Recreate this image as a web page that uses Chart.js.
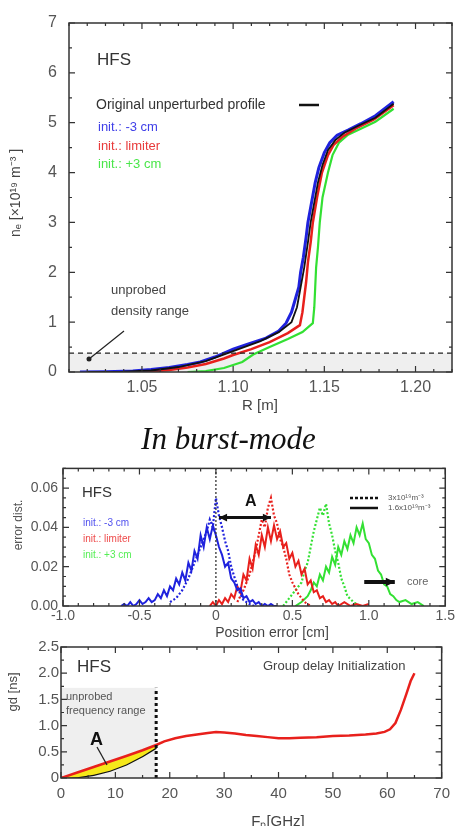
<!DOCTYPE html>
<html>
<head>
<meta charset="utf-8">
<script src="https://cdn.jsdelivr.net/npm/chart.js@4.4.1/dist/chart.umd.min.js"></script>
<style>
  html, body { margin: 0; padding: 0; background: #fff; }
  body { width: 457px; height: 826px; position: relative; overflow: hidden; }
  canvas { position: absolute; left: 0; }
  #burst {
    position: absolute; left: 0; top: 421px; width: 457px; text-align: center;
    font: italic 31px "Liberation Serif", "DejaVu Serif", serif; line-height: 36px; color: #111;
  }
</style>
</head>
<body>
<canvas id="profile" width="457" height="425" style="top:0px"></canvas>
<div id="burst">In burst-mode</div>
<canvas id="errdist" width="457" height="190" style="top:455px"></canvas>
<canvas id="gdinit" width="457" height="190" style="top:636px"></canvas>

<script>
// ---- panel 1: density profiles ----
const rTicks = [1.05, 1.10, 1.15, 1.20];
const rTickLabels = ['1.05', '1.10', '1.15', '1.20'];
const neTicks = [0, 1, 2, 3, 4, 5, 6, 7];
const neUnprobed = 0.38; // unprobed density level

const rOrig  = [1.02, 1.04, 1.055, 1.07, 1.085, 1.10, 1.115, 1.125, 1.132, 1.135, 1.137, 1.139, 1.141, 1.1425, 1.1445, 1.1465, 1.149, 1.152, 1.156, 1.161, 1.168, 1.178, 1.188];
const neOrig = [0, 0.005, 0.03, 0.10, 0.22, 0.42, 0.62, 0.80, 1.0, 1.3, 1.7, 2.1, 2.6, 3.0, 3.4, 3.8, 4.15, 4.45, 4.65, 4.8, 4.93, 5.1, 5.38];

const rBlue  = [1.016, 1.03, 1.045, 1.055, 1.065, 1.075, 1.082, 1.09, 1.10, 1.108, 1.118, 1.125, 1.129, 1.132, 1.134, 1.136, 1.137, 1.1385, 1.140, 1.141, 1.143, 1.145, 1.147, 1.150, 1.153, 1.157, 1.163, 1.170, 1.178, 1.188];
const neBlue = [0, 0.005, 0.02, 0.05, 0.09, 0.15, 0.20, 0.30, 0.46, 0.56, 0.68, 0.82, 0.98, 1.2, 1.45, 1.7, 2.0, 2.3, 2.7, 3.0, 3.4, 3.8, 4.1, 4.4, 4.6, 4.75, 4.85, 4.98, 5.14, 5.42];

const rRed  = [1.045, 1.055, 1.065, 1.075, 1.085, 1.095, 1.10, 1.11, 1.12, 1.13, 1.1366, 1.138, 1.139, 1.140, 1.141, 1.1425, 1.1437, 1.146, 1.1487, 1.152, 1.155, 1.160, 1.167, 1.177, 1.188];
const neRed = [0, 0.01, 0.04, 0.09, 0.16, 0.27, 0.34, 0.46, 0.60, 0.78, 0.94, 1.2, 1.5, 1.8, 2.2, 2.6, 3.0, 3.5, 4.0, 4.35, 4.55, 4.72, 4.88, 5.06, 5.35];

const rGreen  = [1.075, 1.085, 1.095, 1.105, 1.111, 1.12, 1.13, 1.138, 1.1437, 1.1445, 1.145, 1.1455, 1.1465, 1.1475, 1.149, 1.152, 1.1545, 1.158, 1.163, 1.170, 1.178, 1.188];
const neGreen = [0, 0.02, 0.08, 0.20, 0.35, 0.50, 0.66, 0.80, 0.98, 1.3, 1.7, 2.1, 2.5, 3.0, 3.5, 4.0, 4.35, 4.6, 4.76, 4.88, 5.02, 5.28];

// ---- panel 2: position error distributions ----
const errTicks = [-1.0, -0.5, 0, 0.5, 1.0, 1.5];
const errTickLabels = ['-1.0', '-0.5', '0', '0.5', '1.0', '1.5'];
const distTicks = [0, 0.02, 0.04, 0.06];
const distTickLabels = ['0.00', '0.02', '0.04', '0.06'];

const blueSolidX = [-0.62, -0.60, -0.58, -0.56, -0.54, -0.52, -0.50, -0.48, -0.46, -0.44, -0.42, -0.40, -0.38, -0.36, -0.34, -0.32, -0.30, -0.28, -0.26, -0.24, -0.22, -0.20, -0.18, -0.16, -0.14, -0.12, -0.10, -0.08, -0.06, -0.04, -0.02, 0.00, 0.02, 0.04, 0.06, 0.08, 0.10, 0.12, 0.14, 0.16, 0.18, 0.20, 0.22, 0.24, 0.26, 0.28, 0.30, 0.32, 0.34, 0.36, 0.38, 0.40];
const blueSolidY = [0.000, 0.001, 0.000, 0.002, 0.000, 0.001, 0.003, 0.001, 0.002, 0.004, 0.002, 0.003, 0.006, 0.004, 0.008, 0.005, 0.010, 0.008, 0.014, 0.011, 0.017, 0.013, 0.022, 0.018, 0.028, 0.024, 0.036, 0.030, 0.040, 0.034, 0.041, 0.036, 0.030, 0.026, 0.020, 0.022, 0.014, 0.012, 0.008, 0.009, 0.004, 0.005, 0.002, 0.003, 0.001, 0.002, 0.000, 0.001, 0.000, 0.001, 0.000, 0.000];
const blueDotX = [-0.30, -0.26, -0.22, -0.18, -0.14, -0.10, -0.06, -0.04, -0.02, 0.00, 0.02, 0.04, 0.06, 0.08, 0.10, 0.12, 0.14, 0.16, 0.18, 0.22, 0.25];
const blueDotY = [0.002, 0.004, 0.008, 0.014, 0.022, 0.030, 0.038, 0.044, 0.040, 0.055, 0.046, 0.040, 0.033, 0.028, 0.020, 0.015, 0.010, 0.006, 0.003, 0.001, 0.000];

const redSolidX = [-0.04, -0.02, 0.00, 0.02, 0.04, 0.06, 0.08, 0.10, 0.12, 0.14, 0.16, 0.18, 0.20, 0.22, 0.24, 0.26, 0.28, 0.30, 0.32, 0.34, 0.36, 0.38, 0.40, 0.42, 0.44, 0.46, 0.48, 0.50, 0.52, 0.54, 0.56, 0.58, 0.60, 0.62, 0.64, 0.66, 0.68, 0.70, 0.72, 0.74, 0.76, 0.78, 0.80, 0.84, 0.88, 0.92, 0.96, 1.00];
const redSolidY = [0.000, 0.002, 0.000, 0.003, 0.001, 0.004, 0.002, 0.006, 0.004, 0.010, 0.007, 0.016, 0.013, 0.024, 0.019, 0.031, 0.026, 0.036, 0.030, 0.040, 0.033, 0.041, 0.034, 0.038, 0.030, 0.032, 0.024, 0.027, 0.020, 0.023, 0.016, 0.019, 0.011, 0.013, 0.007, 0.008, 0.004, 0.005, 0.002, 0.003, 0.001, 0.002, 0.000, 0.002, 0.000, 0.001, 0.000, 0.001];
const redDotX = [0.14, 0.18, 0.22, 0.26, 0.28, 0.30, 0.32, 0.34, 0.36, 0.38, 0.40, 0.42, 0.44, 0.46, 0.48, 0.50, 0.54, 0.58, 0.62];
const redDotY = [0.002, 0.008, 0.016, 0.028, 0.036, 0.044, 0.040, 0.050, 0.055, 0.046, 0.042, 0.034, 0.030, 0.024, 0.016, 0.012, 0.006, 0.002, 0.000];

const greenDotX = [0.44, 0.48, 0.52, 0.56, 0.58, 0.60, 0.62, 0.64, 0.66, 0.68, 0.70, 0.72, 0.74, 0.76, 0.78, 0.80, 0.82, 0.84, 0.86, 0.90, 0.94];
const greenDotY = [0.000, 0.004, 0.008, 0.012, 0.018, 0.022, 0.030, 0.038, 0.044, 0.050, 0.046, 0.052, 0.042, 0.036, 0.028, 0.022, 0.014, 0.010, 0.005, 0.002, 0.000];
const greenSolidX = [0.52, 0.56, 0.60, 0.62, 0.64, 0.66, 0.68, 0.70, 0.72, 0.74, 0.76, 0.78, 0.80, 0.82, 0.84, 0.86, 0.88, 0.90, 0.92, 0.94, 0.96, 0.98, 1.00, 1.02, 1.04, 1.06, 1.08, 1.10, 1.12, 1.14, 1.16, 1.18, 1.20, 1.24, 1.28, 1.32, 1.36];
const greenSolidY = [0.000, 0.002, 0.005, 0.008, 0.012, 0.010, 0.016, 0.013, 0.020, 0.017, 0.025, 0.021, 0.030, 0.026, 0.033, 0.029, 0.036, 0.032, 0.040, 0.036, 0.042, 0.034, 0.032, 0.026, 0.024, 0.018, 0.016, 0.011, 0.010, 0.006, 0.005, 0.003, 0.002, 0.003, 0.001, 0.002, 0.000];

// ---- panel 3: group delay initialization ----
const fTicks = [0, 10, 20, 30, 40, 50, 60, 70];
const gdTicks = [0, 0.5, 1.0, 1.5, 2.0, 2.5];
const gdTickLabels = ['0', '0.5', '1.0', '1.5', '2.0', '2.5'];
const fUnprobed = 17.5;
const gdShadeTop = 1.72;

const fInit = [0, 3, 6, 9, 12, 15, 17.5];
const gdInitLinear = [0, 0.105, 0.21, 0.315, 0.42, 0.53, 0.63];
const gdInitTrue = [0, 0.015, 0.06, 0.14, 0.26, 0.42, 0.58];
const fGd = [17.5, 19, 21, 23, 25, 27, 28.5, 30, 32, 34, 36, 38, 40, 42, 44, 47, 50, 53, 56, 58, 59.5, 60.5, 61.5, 62.5, 63.5, 64.3, 65];
const gd = [0.63, 0.70, 0.76, 0.80, 0.83, 0.86, 0.88, 0.87, 0.85, 0.82, 0.80, 0.78, 0.76, 0.76, 0.77, 0.78, 0.80, 0.81, 0.83, 0.85, 0.88, 0.93, 1.05, 1.30, 1.60, 1.85, 2.00];

const FONT = '"Liberation Sans", Arial, sans-serif';
const BLUE = '#1f22dd', RED = '#e8201c', GREEN = '#33e033';

const pairs = (xs, ys) => xs.map((x, i) => ({ x, y: ys[i] }));

function steps(a, b, d) {
  const out = [];
  for (let v = a; v <= b + 1e-9; v += d) out.push(+v.toFixed(4));
  return out;
}

function txt(ctx, s, x, y, size, color, opts = {}) {
  ctx.save();
  ctx.font = (opts.bold ? 'bold ' : '') + size + 'px ' + FONT;
  ctx.fillStyle = color;
  ctx.textAlign = opts.align || 'left';
  ctx.textBaseline = 'middle';
  if (opts.rotate) {
    ctx.translate(x, y);
    ctx.rotate(-Math.PI / 2);
    ctx.textAlign = 'center';
    ctx.fillText(s, 0, 0);
  } else {
    ctx.fillText(s, x, y);
  }
  ctx.restore();
}

function arrow(ctx, x1, y1, x2, y2, width, head, both) {
  ctx.save();
  ctx.strokeStyle = '#111';
  ctx.fillStyle = '#111';
  ctx.lineWidth = width;
  ctx.beginPath();
  ctx.moveTo(x1, y1);
  ctx.lineTo(x2, y2);
  ctx.stroke();
  const tip = (xa, ya, xb, yb) => {
    const a = Math.atan2(yb - ya, xb - xa);
    ctx.beginPath();
    ctx.moveTo(xb, yb);
    ctx.lineTo(xb - head * Math.cos(a - 0.45), yb - head * Math.sin(a - 0.45));
    ctx.lineTo(xb - head * Math.cos(a + 0.45), yb - head * Math.sin(a + 0.45));
    ctx.closePath();
    ctx.fill();
  };
  tip(x1, y1, x2, y2);
  if (both) tip(x2, y2, x1, y1);
  ctx.restore();
}

// box around the plot with inward ticks on every side
function framePlugin(xMajor, xMinor, yMajor, yMinor) {
  return {
    id: 'frame',
    afterDatasetsDraw(chart) {
      const { ctx, chartArea: a, scales: { x, y } } = chart;
      ctx.save();
      ctx.strokeStyle = '#333';
      ctx.lineWidth = 1.5;
      ctx.strokeRect(a.left, a.top, a.right - a.left, a.bottom - a.top);
      ctx.lineWidth = 1.2;
      ctx.beginPath();
      const xt = (vals, len) => vals.forEach(v => {
        const p = x.getPixelForValue(v);
        ctx.moveTo(p, a.bottom); ctx.lineTo(p, a.bottom - len);
        ctx.moveTo(p, a.top); ctx.lineTo(p, a.top + len);
      });
      const yt = (vals, len) => vals.forEach(v => {
        const p = y.getPixelForValue(v);
        ctx.moveTo(a.left, p); ctx.lineTo(a.left + len, p);
        ctx.moveTo(a.right, p); ctx.lineTo(a.right - len, p);
      });
      xt(xMinor, 3); xt(xMajor, 6);
      yt(yMinor, 3); yt(yMajor, 6);
      ctx.stroke();
      ctx.restore();
    }
  };
}

function axes(xMin, xMax, xTickVals, xLabels, xPad, xFont, xH, yMin, yMax, yTickVals, yLabels, yPad, yFont, yW) {
  return {
    x: {
      type: 'linear', min: xMin, max: xMax,
      grid: { display: false, drawTicks: false }, border: { display: false },
      afterBuildTicks: s => { s.ticks = xTickVals.map(v => ({ value: v })); },
      afterFit: s => { s.height = xH; },
      ticks: { padding: xPad, color: '#555', font: { family: FONT, size: xFont }, maxRotation: 0,
               callback: (v, i) => xLabels[i] }
    },
    y: {
      type: 'linear', min: yMin, max: yMax,
      grid: { display: false, drawTicks: false }, border: { display: false },
      afterBuildTicks: s => { s.ticks = yTickVals.map(v => ({ value: v })); },
      afterFit: s => { s.width = yW; },
      ticks: { padding: yPad, color: '#555', font: { family: FONT, size: yFont },
               callback: (v, i) => yLabels[i] }
    }
  };
}

const baseOpts = {
  responsive: false,
  animation: false,
  devicePixelRatio: 1,
  plugins: { legend: { display: false }, tooltip: { enabled: false } },
  elements: { point: { radius: 0 }, line: { tension: 0 } }
};

function line(data, color, width, extra = {}) {
  return Object.assign({ data, borderColor: color, borderWidth: width, showLine: true, fill: false }, extra);
}

// ================= panel 1 =================
new Chart(document.getElementById('profile'), {
  type: 'scatter',
  data: {
    datasets: [
      line(pairs([1.01, 1.22], [neUnprobed, neUnprobed]), '#222', 1.3, { borderDash: [5, 4] }),
      line(pairs(rOrig, neOrig), '#111', 1.8),
      line(pairs(rBlue, neBlue), BLUE, 3),
      line(pairs(rRed, neRed), RED, 2.5),
      line(pairs(rGreen, neGreen), GREEN, 2.2)
    ]
  },
  options: Object.assign({}, baseOpts, {
    layout: { padding: { left: 0, top: 23, right: 5, bottom: 0 } },
    scales: axes(1.01, 1.22, rTicks, rTickLabels, 6, 16, 53,
                 0, 7, neTicks, neTicks.map(String), 12, 16, 69)
  }),
  plugins: [
    {
      id: 'shade1',
      beforeDatasetsDraw(chart) {
        const { ctx, chartArea: a, scales: { y } } = chart;
        const top = y.getPixelForValue(neUnprobed);
        ctx.save();
        ctx.fillStyle = '#efefef';
        ctx.fillRect(a.left, top, a.right - a.left, a.bottom - top);
        ctx.restore();
      }
    },
    framePlugin(rTicks, steps(1.01, 1.22, 0.01), neTicks, steps(0, 7, 0.5)),
    {
      id: 'decor1',
      afterDraw(chart) {
        const ctx = chart.ctx;
        txt(ctx, 'HFS', 97, 60, 17, '#333');
        txt(ctx, 'Original unperturbed profile', 96, 105, 14, '#333');
        ctx.save();
        ctx.strokeStyle = '#111'; ctx.lineWidth = 2.5;
        ctx.beginPath(); ctx.moveTo(299, 105); ctx.lineTo(319, 105); ctx.stroke();
        ctx.restore();
        txt(ctx, 'init.: -3 cm', 98, 127, 13, '#4040e8');
        txt(ctx, 'init.: limiter', 98, 146, 13, '#e83a3a');
        txt(ctx, 'init.: +3 cm', 98, 164, 13, '#4ae64a');
        txt(ctx, 'unprobed', 111, 290, 13, '#444');
        txt(ctx, 'density range', 111, 311, 13, '#444');
        ctx.save();
        ctx.strokeStyle = '#222'; ctx.fillStyle = '#222'; ctx.lineWidth = 1.3;
        ctx.beginPath(); ctx.moveTo(124, 331); ctx.lineTo(89, 359); ctx.stroke();
        ctx.beginPath(); ctx.arc(89, 359, 2.5, 0, Math.PI * 2); ctx.fill();
        ctx.restore();
        txt(ctx, 'R [m]', 260, 406, 15, '#444', { align: 'center' });
        txt(ctx, 'nₑ [×10¹⁹ m⁻³ ]', 16, 193, 14, '#444', { rotate: true });
      }
    }
  ]
});

// ================= panel 2 =================
new Chart(document.getElementById('errdist'), {
  type: 'scatter',
  data: {
    datasets: [
      line(pairs([0, 0], [0, 0.07]), '#333', 1.3, { borderDash: [2, 2] }),
      line(pairs(blueDotX, blueDotY), BLUE, 2.2, { borderDash: [2, 2] }),
      line(pairs(blueSolidX, blueSolidY), BLUE, 2),
      line(pairs(redDotX, redDotY), RED, 2.2, { borderDash: [2, 2] }),
      line(pairs(redSolidX, redSolidY), RED, 2),
      line(pairs(greenDotX, greenDotY), GREEN, 2.2, { borderDash: [2, 2] }),
      line(pairs(greenSolidX, greenSolidY), GREEN, 2)
    ]
  },
  options: Object.assign({}, baseOpts, {
    layout: { padding: { left: 0, top: 13, right: 10, bottom: 0 } },
    scales: axes(-1.0, 1.5, errTicks, errTickLabels, 2, 14, 39,
                 0, 0.07, distTicks, distTickLabels, 5, 14, 63)
  }),
  plugins: [
    framePlugin(errTicks, steps(-1.0, 1.5, 0.1), distTicks, steps(0, 0.07, 0.005)),
    {
      id: 'decor2',
      afterDraw(chart) {
        const { ctx, scales: { x, y } } = chart;
        txt(ctx, 'HFS', 82, 38, 15, '#333');
        txt(ctx, 'init.: -3 cm', 83, 68, 10, '#5050ee');
        txt(ctx, 'init.: limiter', 83, 84, 10, '#ee4a4a');
        txt(ctx, 'init.: +3 cm', 83, 100, 10, '#55ee55');
        ctx.save();
        ctx.strokeStyle = '#111'; ctx.lineWidth = 2.5;
        ctx.setLineDash([3, 2]);
        ctx.beginPath(); ctx.moveTo(350, 43); ctx.lineTo(378, 43); ctx.stroke();
        ctx.setLineDash([]);
        ctx.beginPath(); ctx.moveTo(350, 53); ctx.lineTo(378, 53); ctx.stroke();
        ctx.restore();
        txt(ctx, '3x10¹⁹m⁻³', 388, 43, 8, '#555');
        txt(ctx, '1.6x10¹⁹m⁻³', 388, 53, 8, '#555');
        txt(ctx, 'A', 245, 47, 16, '#111', { bold: true });
        arrow(ctx, x.getPixelForValue(0.02), y.getPixelForValue(0.045),
                   x.getPixelForValue(0.36), y.getPixelForValue(0.045), 3, 9, true);
        arrow(ctx, x.getPixelForValue(0.97), y.getPixelForValue(0.0122),
                   x.getPixelForValue(1.17), y.getPixelForValue(0.0122), 4, 10, false);
        txt(ctx, 'core', 407, 127, 11, '#666');
        txt(ctx, 'error dist.', 19, 70, 12, '#555', { rotate: true });
        txt(ctx, 'Position error [cm]', 272, 178, 14, '#444', { align: 'center' });
      }
    }
  ]
});

// ================= panel 3 =================
new Chart(document.getElementById('gdinit'), {
  type: 'scatter',
  data: {
    datasets: [
      line(pairs([fUnprobed, fUnprobed], [0, gdShadeTop]), '#111', 3, { borderDash: [3, 3] }),
      line(pairs(fInit, gdInitLinear), RED, 2.5, { fill: { target: '+1' }, backgroundColor: '#f5e81a' }),
      line(pairs(fInit, gdInitTrue), '#111', 2.5),
      line(pairs(fGd, gd), RED, 2.5)
    ]
  },
  options: Object.assign({}, baseOpts, {
    layout: { padding: { left: 0, top: 10, right: 10, bottom: 0 } },
    scales: axes(0, 70, fTicks, fTicks.map(String), 7, 15, 48,
                 0, 2.5, gdTicks, gdTickLabels, 2, 15, 61)
  }),
  plugins: [
    {
      id: 'shade3',
      beforeDatasetsDraw(chart) {
        const { ctx, scales: { x, y } } = chart;
        const l = x.getPixelForValue(0), r = x.getPixelForValue(fUnprobed);
        const t = y.getPixelForValue(gdShadeTop), b = y.getPixelForValue(0);
        ctx.save();
        ctx.fillStyle = '#efefef';
        ctx.fillRect(l, t, r - l, b - t);
        ctx.restore();
      }
    },
    framePlugin(fTicks, steps(0, 70, 5), gdTicks, steps(0, 2.5, 0.25)),
    {
      id: 'decor3',
      afterDraw(chart) {
        const ctx = chart.ctx;
        txt(ctx, 'HFS', 77, 31, 17, '#333');
        txt(ctx, 'Group delay Initialization', 263, 30, 13, '#444');
        txt(ctx, 'unprobed', 66, 61, 11, '#555');
        txt(ctx, 'frequency range', 66, 75, 11, '#555');
        txt(ctx, 'A', 90, 104, 18, '#111', { bold: true });
        ctx.save();
        ctx.strokeStyle = '#222'; ctx.lineWidth = 1.3;
        ctx.beginPath(); ctx.moveTo(97, 111); ctx.lineTo(107, 129); ctx.stroke();
        ctx.restore();
        txt(ctx, 'gd [ns]', 13, 56, 13, '#444', { rotate: true });
        txt(ctx, 'Fₚ[GHz]', 278, 186, 15, '#444', { align: 'center' });
      }
    }
  ]
});
</script>
</body>
</html>
